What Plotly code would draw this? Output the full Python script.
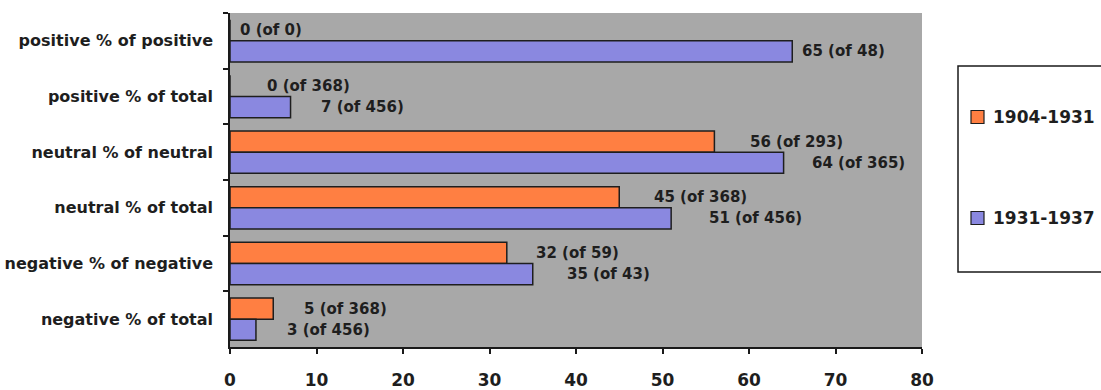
import plotly.graph_objects as go

# Categories, listed top to bottom
categories = [
    "positive % of positive",
    "positive % of total",
    "neutral % of neutral",
    "neutral % of total",
    "negative % of negative",
    "negative % of total",
]

series_names = ["1904-1931", "1931-1937"]
pct_1904 = [0, 0, 56, 45, 32, 5]
pct_1931 = [65, 7, 64, 51, 35, 3]
base_1904 = [0, 368, 293, 368, 59, 368]
base_1931 = [48, 456, 365, 456, 43, 456]

x_ticks = [0, 10, 20, 30, 40, 50, 60, 70, 80]

# Styling
ORANGE = "#FF7F42"
BLUE = "#8A88E0"
PLOT_BG = "#A8A8A8"
EDGE = "#1E1E1E"
TEXT = "#1E1E1E"
FONT = "DejaVu Sans"

# horizontal gap (px) between a bar's end and its label
label_gap_1904 = [8, 35, 34, 33, 27, 29]
label_gap_1931 = [8, 28, 26, 36, 32, 29]

fig = go.Figure()
for name, vals, color in [(series_names[0], pct_1904, ORANGE),
                          (series_names[1], pct_1931, BLUE)]:
    fig.add_trace(go.Bar(
        name=name, y=categories, x=vals, orientation="h",
        marker=dict(color=color, line=dict(color=EDGE, width=1.5)),
        showlegend=False,
    ))

BAR_HALF = 10.5
annotations = []
for vals, bases, gaps, dy in [(pct_1904, base_1904, label_gap_1904, BAR_HALF),
                              (pct_1931, base_1931, label_gap_1931, -BAR_HALF)]:
    for cat, v, b, g in zip(categories, vals, bases, gaps):
        annotations.append(dict(
            x=v, y=cat, xref="x", yref="y",
            text=f"{v} (of {b})", showarrow=False,
            xanchor="left", yanchor="middle", xshift=g, yshift=dy,
            font=dict(family=FONT, size=15, color=TEXT, weight="bold"),
        ))

# Legend box drawn in paper space
L0, R0 = 958, 1115
T0, B0 = 66, 272
W, H = 1101, 390
ml, mr, mt, mb = 230, 179, 13, 43
pw, ph = W - ml - mr, H - mt - mb


def px_x(x):
    return (x - ml) / pw


def px_y(y):
    return 1 - (y - mt) / ph


shapes = [dict(type="rect", xref="paper", yref="paper",
               x0=px_x(L0), x1=px_x(R0), y0=px_y(B0), y1=px_y(T0),
               fillcolor="white", line=dict(color="#1a1a1a", width=1.5),
               layer="above")]
for name, color, cy in [(series_names[0], ORANGE, 117), (series_names[1], BLUE, 218)]:
    shapes.append(dict(type="rect", xref="paper", yref="paper",
                       x0=px_x(971), x1=px_x(984), y0=px_y(cy + 6.5), y1=px_y(cy - 6.5),
                       fillcolor=color, line=dict(color=EDGE, width=1.2), layer="above"))
    annotations.append(dict(
        x=px_x(991), y=px_y(cy), xref="paper", yref="paper",
        text=name, showarrow=False, xanchor="left", yanchor="middle",
        font=dict(family=FONT, size=17, color=TEXT, weight="bold"),
    ))

fig.update_layout(
    width=W, height=H,
    margin=dict(l=ml, r=mr, t=mt, b=mb, pad=0, autoexpand=False),
    paper_bgcolor="white", plot_bgcolor=PLOT_BG,
    barmode="group", bargap=0.24, bargroupgap=0,
    font=dict(family=FONT, color=TEXT),
    annotations=annotations, shapes=shapes,
)
fig.update_xaxes(
    range=[0, 80], tickvals=x_ticks, ticktext=[str(t) for t in x_ticks],
    showgrid=False, zeroline=False, automargin=False,
    showline=True, linecolor="#1a1a1a", linewidth=1.5,
    ticks="outside", ticklen=5, tickcolor="#1a1a1a", tickwidth=1.5,
    ticklabelstandoff=12,
    tickfont=dict(family=FONT, size=17, color=TEXT, weight="bold"),
)
fig.update_yaxes(
    categoryorder="array", categoryarray=categories, autorange="reversed",
    showgrid=False, zeroline=False, automargin=False,
    showline=True, linecolor="#1a1a1a", linewidth=1.5,
    ticks="outside", ticklen=5, tickcolor="#1a1a1a", tickwidth=1.5,
    tickson="boundaries", ticklabelstandoff=12,
    tickfont=dict(family=FONT, size=16, color=TEXT, weight="bold"),
)

fig.write_html("out.html")
